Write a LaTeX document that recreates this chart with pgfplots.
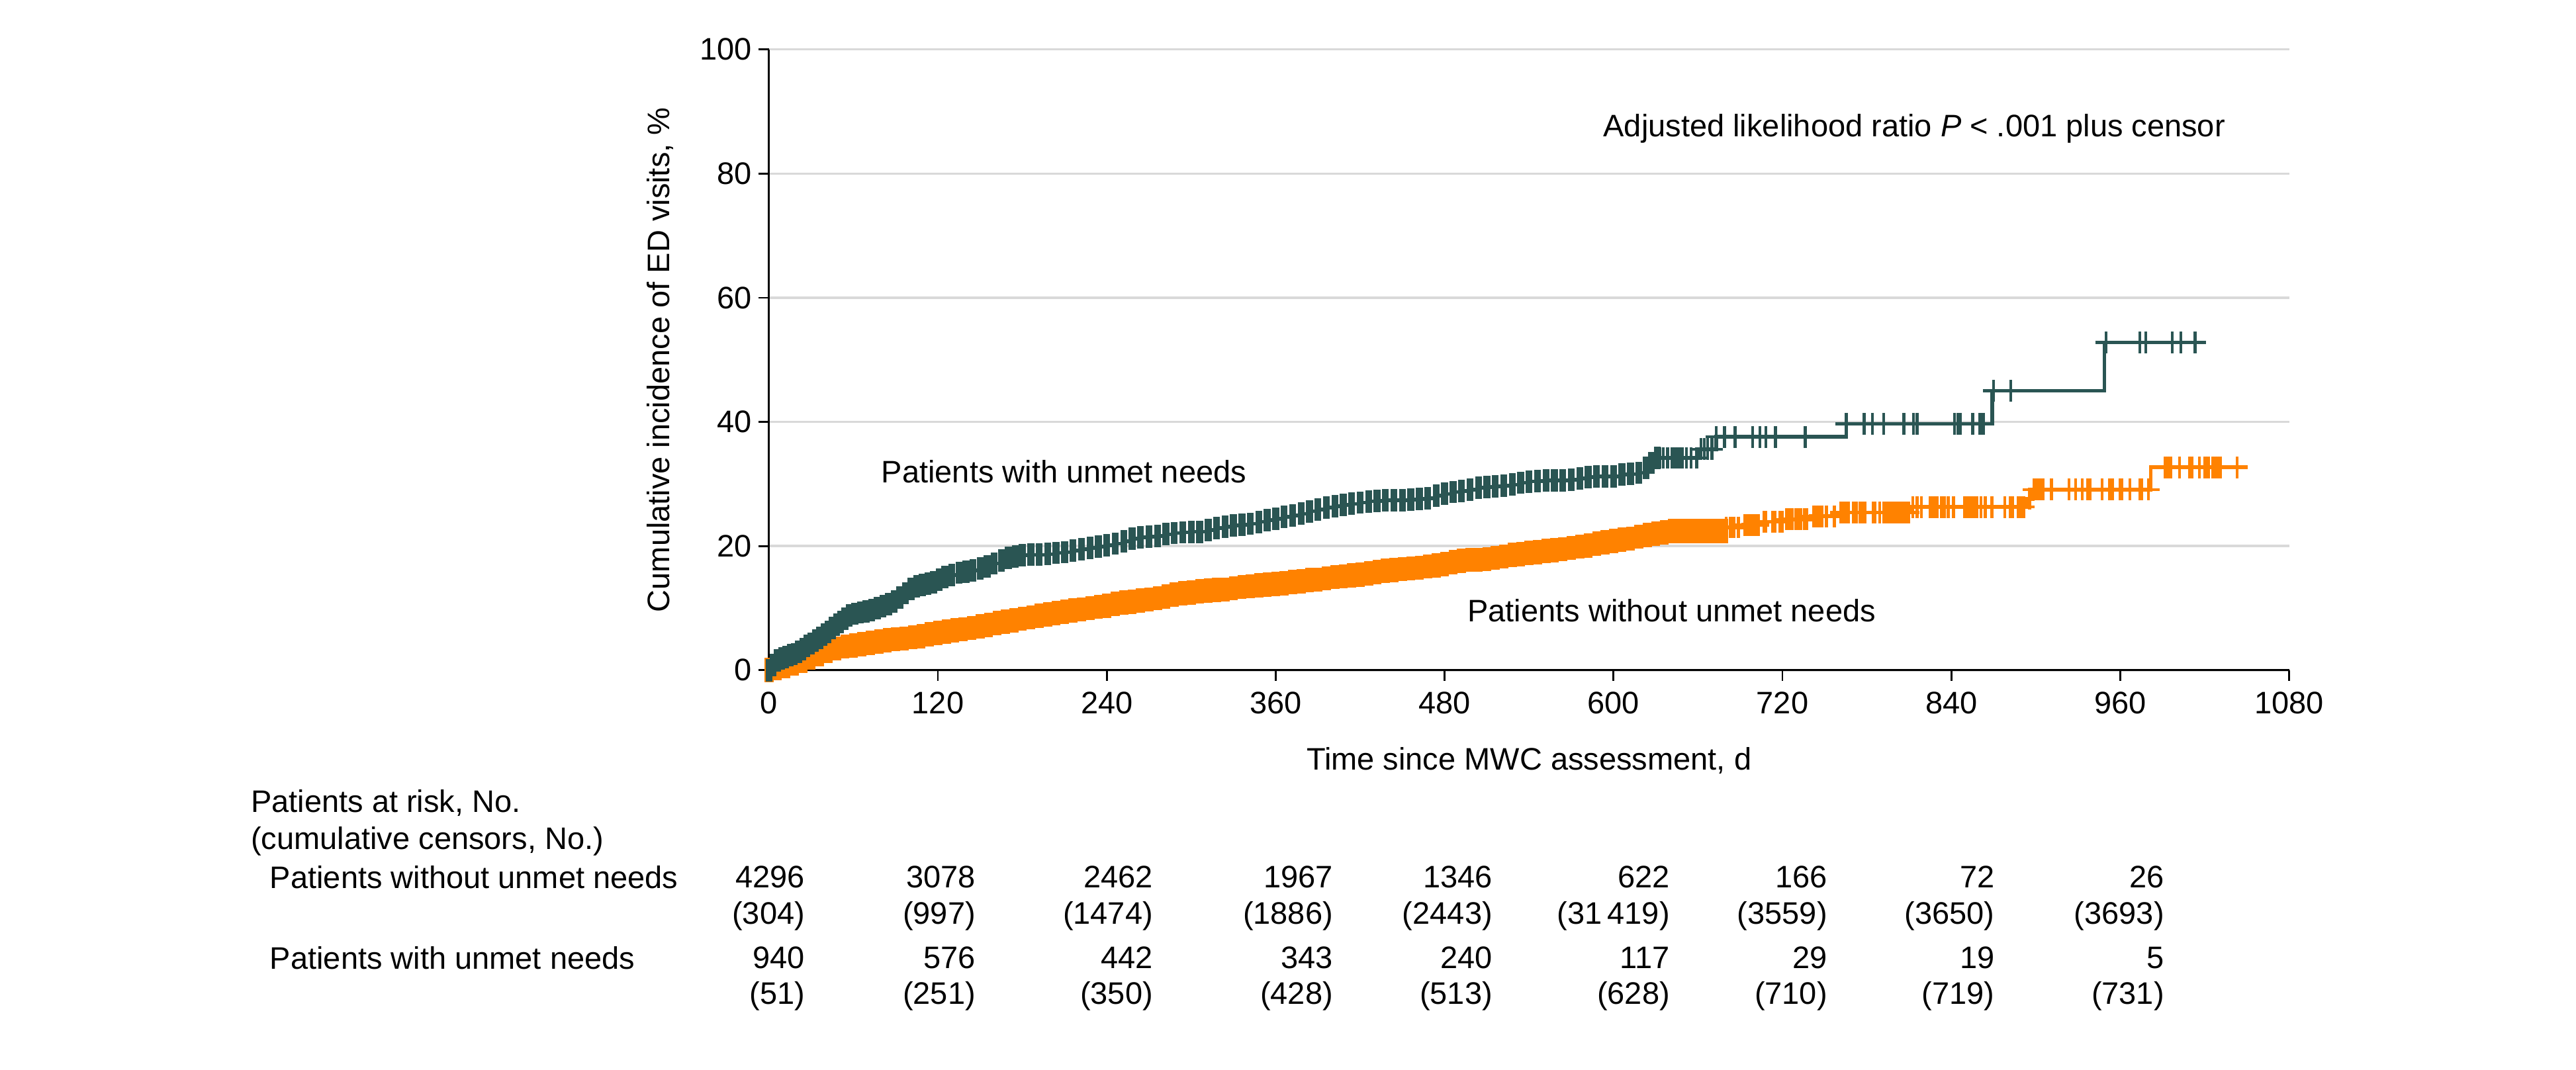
\documentclass[border=0pt]{standalone}
\usepackage{fontspec}
\setmainfont{Liberation Sans}
\usepackage{pgfplots}
\pgfplotsset{compat=1.18}
\usepackage{pgfplotstable}
\definecolor{tealc}{HTML}{2A5553}
\definecolor{orngc}{HTML}{FF8200}
\definecolor{gridc}{HTML}{D9D9D9}

% Patients with unmet needs: dense early part (step values, censor marks at each)
\pgfplotstableread{
t v
0 0.0
3 0.8
6 1.6
9 1.9
12 2.1
15 2.4
18 2.6
21 3.0
24 3.4
27 3.9
30 4.3
33 4.8
36 5.2
39 5.7
42 6.2
45 6.8
48 7.3
51 7.8
54 8.3
57 8.8
61 9.1
65 9.3
69 9.5
73 9.7
77 10.0
81 10.3
85 10.6
89 11.1
93 11.7
97 12.4
101 13.1
105 13.5
109 13.7
113 13.9
117 14.2
121 14.6
125 15.0
130 15.3
135 15.7
140 15.9
145 16.1
150 16.4
155 16.7
160 17.2
165 17.7
170 18.1
175 18.3
180 18.5
186 18.6
192 18.6
198 18.7
204 18.9
210 19.0
216 19.3
222 19.5
228 19.7
234 19.9
240 20.1
246 20.4
252 20.8
258 21.2
264 21.4
270 21.5
276 21.6
282 21.9
288 22.1
294 22.2
300 22.3
306 22.3
312 22.6
318 22.9
324 23.1
330 23.3
336 23.4
342 23.6
348 23.9
354 24.2
360 24.4
366 24.7
372 24.9
378 25.2
384 25.6
390 25.9
396 26.2
402 26.4
408 26.6
414 26.8
420 27.0
426 27.2
432 27.3
438 27.4
444 27.4
450 27.4
456 27.5
462 27.6
468 27.7
474 28.1
480 28.4
486 28.7
492 28.9
498 29.1
504 29.4
510 29.5
516 29.6
522 29.7
528 29.9
534 30.2
540 30.4
546 30.5
552 30.6
558 30.6
564 30.6
570 30.7
576 30.9
582 31.1
588 31.2
594 31.2
600 31.2
606 31.5
612 31.6
618 31.8
623 32.6
627 33.4
631 34.2
}\tealdense

\pgfplotstableread{
t v
631 34.2
660 35.6
673 37.6
765.4 39.7
868.9 45.0
948.8 52.8
1021 52.8
}\tealline

\pgfplotstableread{
t v
633 34.2
635.4 34.2
638.5 34.2
641.7 34.2
644 34.2
646.4 34.2
648.7 34.2
651.9 34.2
655 34.2
659 34.2
662.1 35.6
664.4 35.6
666.8 35.6
670 35.6
673 37.6
678.8 37.6
686.3 37.6
698.8 37.6
704 37.6
708.2 37.6
715 37.6
736.1 37.6
765.4 39.7
778 39.7
784 39.7
792 39.7
806.2 39.7
813.2 39.7
815.6 39.7
842.2 39.7
844.6 39.7
846.2 39.7
855.1 39.7
860.3 39.7
862.6 39.7
870.1 45.0
882.2 45.0
950 52.8
973.9 52.8
978.1 52.8
997 52.8
1003 52.8
1013.1 52.8
}\tealcens

% Patients without unmet needs: dense early part
\pgfplotstableread{
t v
0 0.0
6 0.3
12 0.7
18 1.1
24 1.5
30 2.0
36 2.6
42 3.1
48 3.5
54 3.8
60 4.0
66 4.2
72 4.4
78 4.6
84 4.8
90 5.0
96 5.1
102 5.3
108 5.5
114 5.8
120 6.0
126 6.2
132 6.4
138 6.6
144 6.8
150 7.1
156 7.3
162 7.6
168 7.8
174 8.0
180 8.3
186 8.5
192 8.8
198 9.0
204 9.2
210 9.4
216 9.6
222 9.8
228 10.0
234 10.2
240 10.4
246 10.7
252 10.9
258 11.0
264 11.2
270 11.4
276 11.6
282 11.9
288 12.2
294 12.4
300 12.5
306 12.7
312 12.8
318 12.9
324 13.0
330 13.2
336 13.4
342 13.5
348 13.7
354 13.8
360 13.9
366 14.0
372 14.2
378 14.3
384 14.5
390 14.6
396 14.8
402 15.0
408 15.1
414 15.3
420 15.4
426 15.6
432 15.8
438 16.0
444 16.1
450 16.3
456 16.4
462 16.5
468 16.7
474 16.9
480 17.1
486 17.4
492 17.6
498 17.8
504 17.8
510 17.9
516 18.1
522 18.3
528 18.6
534 18.7
540 18.9
546 19.0
552 19.2
558 19.3
564 19.5
570 19.7
576 19.9
582 20.1
588 20.4
594 20.6
600 20.8
606 21.0
612 21.2
618 21.5
624 21.8
630 22.0
636 22.2
642 22.4
648 22.4
654 22.4
660 22.4
666 22.4
672 22.4
678 22.4
}\orngdense

\pgfplotstableread{
t v
678 22.4
679 23.0
692 23.4
704 23.9
721 24.3
740 24.8
760 25.4
811 26.3
893 27.6
898 29.1
981.7 32.7
1050.7 32.7
}\ornglline

\pgfplotstableread{
t v
680 23.0
683 23.0
685.5 23.0
688.7 23.0
693.4 23.4
695.7 23.4
698.1 23.4
700.4 23.4
702.8 23.4
706.7 23.9
708.2 23.9
712.9 23.9
714.5 23.9
718.4 23.9
720 23.9
723.1 24.3
725 24.3
727 24.3
729.4 24.3
731 24.3
733 24.3
735.7 24.3
737.2 24.3
742 24.8
744.3 24.8
746.6 24.8
748.2 24.8
751.3 24.8
756.8 24.8
761.5 25.4
763.1 25.4
765.4 25.4
767 25.4
770.2 25.4
772.5 25.4
774.9 25.4
777.2 25.4
778.8 25.4
784.3 25.4
785.8 25.4
789 25.4
792.1 25.4
794 25.4
795.3 25.4
797 25.4
798.4 25.4
800 25.4
801.5 25.4
803 25.4
804.7 25.4
806.5 25.4
807.8 25.4
809.5 25.4
812.6 26.3
815.7 26.3
818.8 26.3
825.1 26.3
827.5 26.3
829.8 26.3
833 26.3
835.3 26.3
837.7 26.3
841.6 26.3
849.3 26.3
851 26.3
852.4 26.3
854 26.3
855.6 26.3
858 26.3
861.1 26.3
864.2 26.3
868.9 26.3
877.9 26.3
881.7 26.3
883.7 26.3
887.6 26.3
889.5 26.3
891.6 26.3
895.5 27.6
898.6 29.1
900 29.1
901.7 29.1
903.3 29.1
904.9 29.1
911.2 29.1
923.7 29.1
928.4 29.1
933.1 29.1
937 29.1
938.6 29.1
947.2 29.1
952.5 29.1
954.3 29.1
959.7 29.1
961.3 29.1
966.8 29.1
973.9 29.1
975.4 29.1
980.1 29.1
991.9 32.7
993.5 32.7
995.8 32.7
1002.1 32.7
1009.1 32.7
1010.7 32.7
1016.2 32.7
1020.1 32.7
1022.5 32.7
1025.6 32.7
1027.2 32.7
1028.8 32.7
1031.1 32.7
1042.9 32.7
}\orngcens

\begin{document}
\begin{tikzpicture}
\useasboundingbox (-247.2pt,-128.5pt) rectangle (580.9pt,215.5pt);
\begin{axis}[
  width=488.7pt, height=199.6pt, scale only axis,
  xmin=0, xmax=1080, ymin=0, ymax=100,
  xtick={0,120,...,1080}, ytick={0,20,...,100},
  axis x line*=bottom, axis y line*=left,
  axis line style={-, line width=0.6pt, black},
  tick align=outside, major tick length=3.4pt,
  tick style={black, line width=0.6pt},
  ymajorgrids, grid style={gridc, line width=0.75pt},
  yticklabel style={inner xsep=1.9pt},
  /pgf/number format/assume math mode=true,
  /pgf/number format/1000 sep={},
  clip=false,
]
\addplot[const plot, orngc, line width=1.2pt, mark=|, mark size=3.9pt,
  mark options={line width=2.9pt, solid}] table[x=t, y=v] {\orngdense};
\addplot[const plot, orngc, line width=1.2pt, mark=none] table[x=t, y=v] {\ornglline};
\addplot[only marks, orngc, mark=+, mark size=3.5pt,
  mark options={line width=0.95pt, solid}] table[x=t, y=v] {\orngcens};

\addplot[const plot, tealc, line width=1.2pt, mark=|, mark size=3.6pt,
  mark options={line width=2.2pt, solid}] table[x=t, y=v] {\tealdense};
\addplot[const plot, tealc, line width=1.2pt, mark=none] table[x=t, y=v] {\tealline};
\addplot[only marks, tealc, mark=+, mark size=3.5pt,
  mark options={line width=0.95pt, solid}] table[x=t, y=v] {\tealcens};

\node[rotate=90] at ([xshift=-34.9pt]axis cs:0,50) {Cumulative incidence of ED visits, \%};
\node at ([yshift=-29pt]axis cs:540,0) {Time since MWC assessment, d};

\node[anchor=west, inner sep=0pt] at (axis cs:592.4,87.2) {Adjusted likelihood ratio \textit{P} < .001 plus censor};
\node[anchor=west, inner sep=0pt] at (axis cs:79.5,32.0) {Patients with unmet needs};
\node[anchor=west, inner sep=0pt] at (axis cs:495.9,9.56) {Patients without unmet needs};

% Number at risk table
\node[anchor=west, inner sep=0pt] at ([xshift=-166.7pt,yshift=-42.8pt]axis cs:0,0) {Patients at risk, No.};
\node[anchor=west, inner sep=0pt] at ([xshift=-166.7pt,yshift=-55.1pt]axis cs:0,0) {(cumulative censors, No.)};
\node[anchor=west, inner sep=0pt] at ([xshift=-160.6pt,yshift=-66.5pt]axis cs:0,0) {Patients without unmet needs};
\node[anchor=west, inner sep=0pt] at ([xshift=-160.6pt,yshift=-92.5pt]axis cs:0,0) {Patients with unmet needs};

\node[anchor=east, inner sep=0pt] at ([yshift=-66.5pt]axis cs:25.9,0) {4296};
\node[anchor=east, inner sep=0pt] at ([yshift=-79.1pt]axis cs:25.9,0) {(304)};
\node[anchor=east, inner sep=0pt] at ([yshift=-92.5pt]axis cs:25.9,0) {940};
\node[anchor=east, inner sep=0pt] at ([yshift=-104.8pt]axis cs:25.9,0) {(51)};

\node[anchor=east, inner sep=0pt] at ([yshift=-66.5pt]axis cs:147.2,0) {3078};
\node[anchor=east, inner sep=0pt] at ([yshift=-79.1pt]axis cs:147.2,0) {(997)};
\node[anchor=east, inner sep=0pt] at ([yshift=-92.5pt]axis cs:147.2,0) {576};
\node[anchor=east, inner sep=0pt] at ([yshift=-104.8pt]axis cs:147.2,0) {(251)};

\node[anchor=east, inner sep=0pt] at ([yshift=-66.5pt]axis cs:273.2,0) {2462};
\node[anchor=east, inner sep=0pt] at ([yshift=-79.1pt]axis cs:273.2,0) {(1474)};
\node[anchor=east, inner sep=0pt] at ([yshift=-92.5pt]axis cs:273.2,0) {442};
\node[anchor=east, inner sep=0pt] at ([yshift=-104.8pt]axis cs:273.2,0) {(350)};

\node[anchor=east, inner sep=0pt] at ([yshift=-66.5pt]axis cs:401.1,0) {1967};
\node[anchor=east, inner sep=0pt] at ([yshift=-79.1pt]axis cs:401.1,0) {(1886)};
\node[anchor=east, inner sep=0pt] at ([yshift=-92.5pt]axis cs:401.1,0) {343};
\node[anchor=east, inner sep=0pt] at ([yshift=-104.8pt]axis cs:401.1,0) {(428)};

\node[anchor=east, inner sep=0pt] at ([yshift=-66.5pt]axis cs:514.4,0) {1346};
\node[anchor=east, inner sep=0pt] at ([yshift=-79.1pt]axis cs:514.4,0) {(2443)};
\node[anchor=east, inner sep=0pt] at ([yshift=-92.5pt]axis cs:514.4,0) {240};
\node[anchor=east, inner sep=0pt] at ([yshift=-104.8pt]axis cs:514.4,0) {(513)};

\node[anchor=east, inner sep=0pt] at ([yshift=-66.5pt]axis cs:640.4,0) {622};
\node[anchor=east, inner sep=0pt] at ([yshift=-79.1pt]axis cs:640.4,0) {(31\,419)};
\node[anchor=east, inner sep=0pt] at ([yshift=-92.5pt]axis cs:640.4,0) {117};
\node[anchor=east, inner sep=0pt] at ([yshift=-104.8pt]axis cs:640.4,0) {(628)};

\node[anchor=east, inner sep=0pt] at ([yshift=-66.5pt]axis cs:752.3,0) {166};
\node[anchor=east, inner sep=0pt] at ([yshift=-79.1pt]axis cs:752.3,0) {(3559)};
\node[anchor=east, inner sep=0pt] at ([yshift=-92.5pt]axis cs:752.3,0) {29};
\node[anchor=east, inner sep=0pt] at ([yshift=-104.8pt]axis cs:752.3,0) {(710)};

\node[anchor=east, inner sep=0pt] at ([yshift=-66.5pt]axis cs:871.2,0) {72};
\node[anchor=east, inner sep=0pt] at ([yshift=-79.1pt]axis cs:871.2,0) {(3650)};
\node[anchor=east, inner sep=0pt] at ([yshift=-92.5pt]axis cs:871.2,0) {19};
\node[anchor=east, inner sep=0pt] at ([yshift=-104.8pt]axis cs:871.2,0) {(719)};

\node[anchor=east, inner sep=0pt] at ([yshift=-66.5pt]axis cs:991.6,0) {26};
\node[anchor=east, inner sep=0pt] at ([yshift=-79.1pt]axis cs:991.6,0) {(3693)};
\node[anchor=east, inner sep=0pt] at ([yshift=-92.5pt]axis cs:991.6,0) {5};
\node[anchor=east, inner sep=0pt] at ([yshift=-104.8pt]axis cs:991.6,0) {(731)};
\end{axis}
\end{tikzpicture}
\end{document}
